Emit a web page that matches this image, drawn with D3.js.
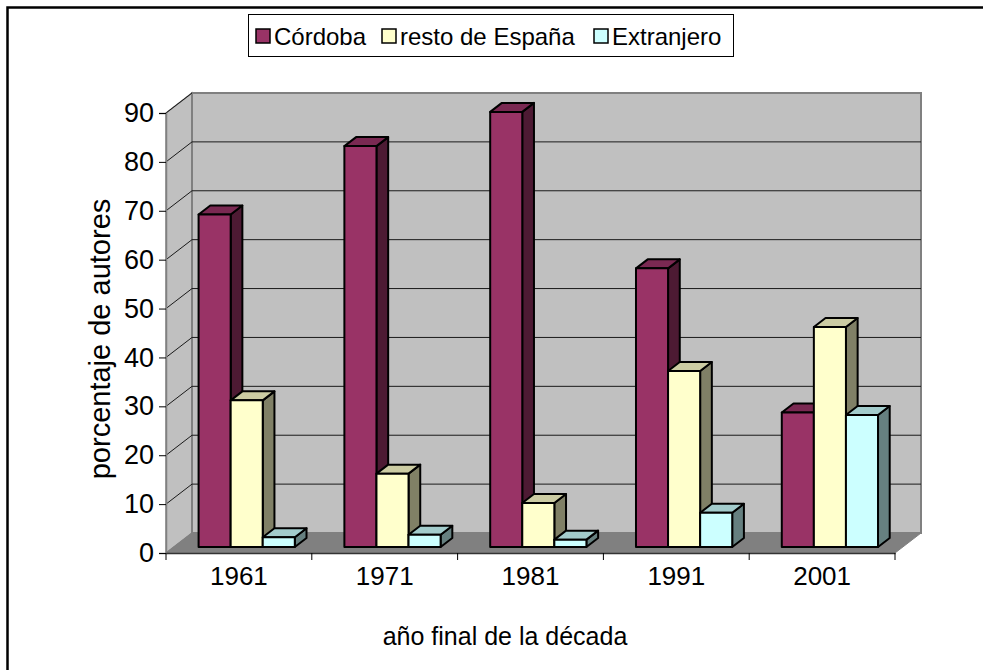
<!DOCTYPE html>
<html>
<head>
<meta charset="utf-8">
<script src="https://cdn.jsdelivr.net/npm/d3@7"></script>
<style>
  html, body { margin: 0; padding: 0; background: #ffffff; }
  svg { display: block; font-family: "Liberation Sans", Arial, sans-serif; }
</style>
</head>
<body>
<div id="viscontainer"></div>
<script>
const categories = ["1961", "1971", "1981", "1991", "2001"];
const seriesNames = ["Córdoba", "resto de España", "Extranjero"];
const cordoba = [68, 82, 89, 57, 27.5];
const restoEspana = [30, 15, 9, 36, 45];
const extranjero = [2, 2.5, 1.5, 7, 27];
const yTicks = [0, 10, 20, 30, 40, 50, 60, 70, 80, 90];

const width = 983;
const height = 670;

// colours: front, top, side
const palette = [
  { front: "#993366", top: "#7a2952", side: "#4d1a33" },
  { front: "#ffffcc", top: "#cccca3", side: "#808066" },
  { front: "#ccffff", top: "#a3cccc", side: "#668080" }
];

// 3d depth offset of the back wall
const depthX = 26;
const depthY = -20;
const barFrontZ = 0.3;
const barBackZ = 0.75;

const svg = d3.select("#viscontainer")
  .append("svg")
  .attr("width", width)
  .attr("height", height);

// outer frame
svg.append("rect")
  .attr("x", 7.5).attr("y", 7.5)
  .attr("width", 1000).attr("height", 700)
  .attr("fill", "none")
  .attr("stroke", "#000")
  .attr("stroke-width", 2.5);

const x0 = d3.scaleBand().domain(categories).range([166, 895]).paddingInner(0).paddingOuter(0);
const groupW = x0.bandwidth() * 0.66;
const x1 = d3.scaleBand().domain(seriesNames).range([0, groupW]);
const y = d3.scaleLinear().domain([0, 90]).range([553, 113]);

function proj(px, v, z) {
  return [px + depthX * z, y(v) + depthY * z];
}

const plot = svg.append("g");

// side wall
const sideWall = [proj(166, 0, 0), proj(166, 90, 0), proj(166, 90, 1), proj(166, 0, 1)];
plot.append("polygon")
  .attr("points", sideWall.join(" "))
  .attr("fill", "#c0c0c0")
  .attr("stroke", "#808080")
  .attr("stroke-width", 1.5);

// back wall
const backWall = [proj(166, 0, 1), proj(166, 90, 1), proj(895, 90, 1), proj(895, 0, 1)];
plot.append("polygon")
  .attr("points", backWall.join(" "))
  .attr("fill", "#c0c0c0")
  .attr("stroke", "#808080")
  .attr("stroke-width", 2);

// gridlines
const grid = yTicks.filter(d => d > 0 && d < 90);
plot.selectAll(".grid-back")
  .data(grid)
  .join("line")
  .attr("x1", d => proj(166, d, 1)[0])
  .attr("y1", d => proj(166, d, 1)[1])
  .attr("x2", d => proj(895, d, 1)[0])
  .attr("y2", d => proj(895, d, 1)[1])
  .attr("stroke", "#1a1a1a")
  .attr("stroke-width", 1);

plot.selectAll(".grid-side")
  .data(yTicks.filter(d => d > 0))
  .join("line")
  .attr("x1", d => proj(166, d, 0)[0])
  .attr("y1", d => proj(166, d, 0)[1])
  .attr("x2", d => proj(166, d, 1)[0])
  .attr("y2", d => proj(166, d, 1)[1])
  .attr("stroke", "#1a1a1a")
  .attr("stroke-width", 1);

// floor
const floor = [proj(166, 0, 0), proj(166, 0, 1), proj(895, 0, 1), proj(895, 0, 0)];
plot.append("polygon")
  .attr("points", floor.join(" "))
  .attr("fill", "#808080")
  .attr("stroke", "#808080")
  .attr("stroke-width", 1);

// y axis
const yAxis = d3.axisLeft(y).tickValues(yTicks).tickSize(7).tickPadding(5);
const gy = svg.append("g")
  .attr("transform", "translate(166,0)")
  .call(yAxis);
gy.select(".domain").attr("stroke", "#808080").attr("stroke-width", 1.5);
gy.selectAll(".tick line").attr("stroke", "#000");
gy.selectAll(".tick text")
  .attr("font-size", 27)
  .attr("font-family", "Liberation Sans, Arial, sans-serif")
  .attr("fill", "#000");

// x axis
const xAxis = d3.axisBottom(x0).tickSize(0).tickPadding(14);
const gx = svg.append("g")
  .attr("transform", "translate(0,553)")
  .call(xAxis);
gx.select(".domain").attr("stroke", "#333").attr("stroke-width", 1.5);
gx.selectAll(".tick text")
  .attr("font-size", 26)
  .attr("font-family", "Liberation Sans, Arial, sans-serif")
  .attr("fill", "#000");
gx.selectAll(".sep")
  .data(categories.slice(1).concat(["end"]))
  .join("line")
  .attr("x1", (d, i) => 166 + x0.step() * (i + 1))
  .attr("x2", (d, i) => 166 + x0.step() * (i + 1))
  .attr("y1", 0)
  .attr("y2", 7)
  .attr("stroke", "#000");
gx.append("line")
  .attr("x1", 166).attr("x2", 166)
  .attr("y1", 0).attr("y2", 7)
  .attr("stroke", "#000");

// bars
const seriesValues = [cordoba, restoEspana, extranjero];
const bars = [];
categories.forEach((c, ci) => {
  seriesValues.forEach((vals, si) => {
    bars.push({ cat: c, series: seriesNames[si], si, value: vals[ci] });
  });
});

const barW = x1.bandwidth();
const barG = svg.append("g");
bars.forEach(d => {
  const left = x0(d.cat) + (x0.bandwidth() - groupW) / 2 + x1(d.series);
  const right = left + barW;
  const col = palette[d.si];
  const fBL = proj(left, 0, barFrontZ);
  const fBR = proj(right, 0, barFrontZ);
  const fTL = proj(left, d.value, barFrontZ);
  const fTR = proj(right, d.value, barFrontZ);
  const bTL = proj(left, d.value, barBackZ);
  const bTR = proj(right, d.value, barBackZ);
  const bBR = proj(right, 0, barBackZ);
  const g = barG.append("g");
  g.append("polygon")
    .attr("points", [fTR, bTR, bBR, fBR].join(" "))
    .attr("fill", col.side)
    .attr("stroke", "#000").attr("stroke-width", 2).attr("stroke-linejoin", "round");
  g.append("polygon")
    .attr("points", [fTL, bTL, bTR, fTR].join(" "))
    .attr("fill", col.top)
    .attr("stroke", "#000").attr("stroke-width", 2).attr("stroke-linejoin", "round");
  g.append("polygon")
    .attr("points", [fBL, fTL, fTR, fBR].join(" "))
    .attr("fill", col.front)
    .attr("stroke", "#000").attr("stroke-width", 2).attr("stroke-linejoin", "round");
});

// axis titles
svg.append("text")
  .attr("x", 505).attr("y", 645)
  .attr("text-anchor", "middle")
  .attr("font-size", 25)
  .text("año final de la década");

svg.append("text")
  .attr("transform", "translate(110,339) rotate(-90)")
  .attr("text-anchor", "middle")
  .attr("font-size", 29)
  .text("porcentaje de autores");

// legend
const legend = svg.append("g");
legend.append("rect")
  .attr("x", 248.5).attr("y", 14.5)
  .attr("width", 485).attr("height", 42)
  .attr("fill", "#fff")
  .attr("stroke", "#000")
  .attr("stroke-width", 1);

const legendX = [256, 382, 594];
const legendItems = legend.selectAll(".item")
  .data(seriesNames)
  .join("g")
  .attr("transform", (d, i) => `translate(${legendX[i]},35)`);
legendItems.append("rect")
  .attr("x", 0).attr("y", -6)
  .attr("width", 14).attr("height", 14)
  .attr("fill", (d, i) => palette[i].front)
  .attr("stroke", "#000")
  .attr("stroke-width", 1.5);
legendItems.append("text")
  .attr("x", 18).attr("y", 10)
  .attr("font-size", 24)
  .text(d => d);
</script>
</body>
</html>
